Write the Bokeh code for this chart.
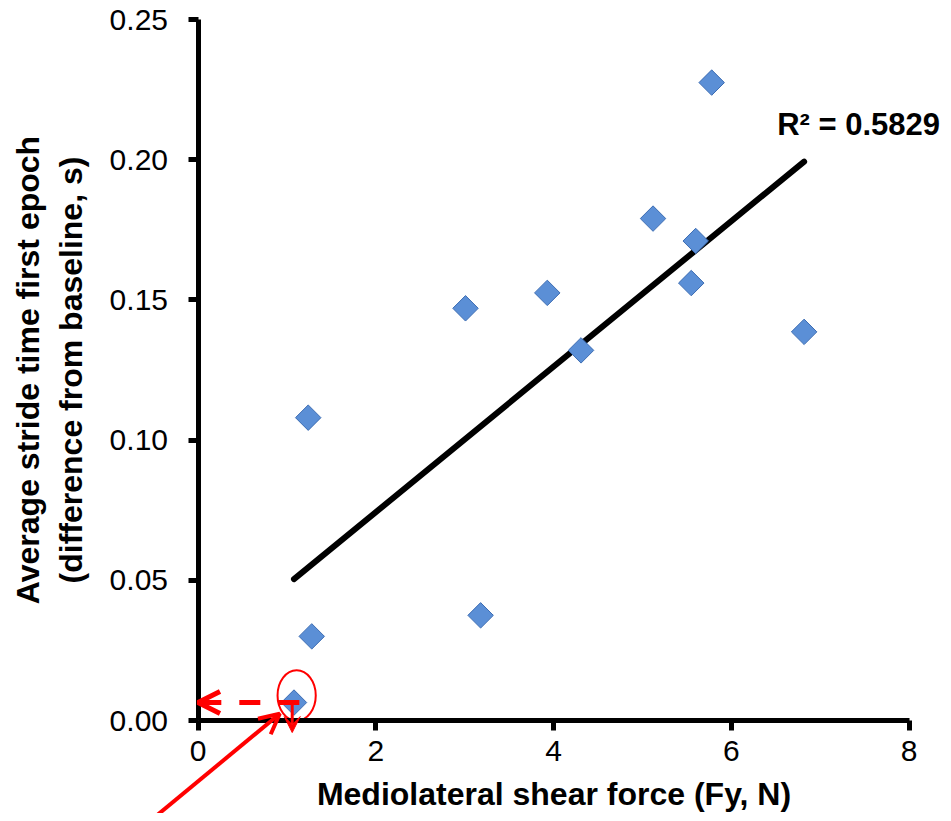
import numpy as np
from bokeh.plotting import figure
from bokeh.models import (ColumnDataSource, Label, Arrow, OpenHead, VeeHead,
                          FixedTicker, NumeralTickFormatter, Range1d)
from bokeh.embed import file_html
from bokeh.resources import INLINE

# ---- data ----
shear_force = [1.08, 1.28, 1.24, 3.01, 3.18, 3.93, 4.31, 5.12, 5.55, 5.60, 5.78, 6.82]
stride_diff = [0.0064, 0.030, 0.108, 0.147, 0.0375, 0.1525, 0.132, 0.179, 0.156, 0.171, 0.2275, 0.1386]
x_ticks = [0, 2, 4, 6, 8]
y_ticks = [0.00, 0.05, 0.10, 0.15, 0.20, 0.25]
x_axis_max = 8
y_axis_max = 0.25
r2_text = "R\u00b2 = 0.5829"
highlight_index = 0

FONT = "Liberation Sans"

# ---- layout: the frame fills the canvas, axes are pinned at 0 so the
# red annotation can reach outside the axis box ----
W, H = 943, 813
LEFT, TOP = 197.5, 19.0          # pixel position of the data origin's axes
PX_X = 711.0 / x_axis_max        # pixels per x unit
PX_Y = 701.0 / y_axis_max        # pixels per y unit
x_lo = -LEFT / PX_X
x_hi = (W - LEFT) / PX_X
y_hi = y_axis_max + TOP / PX_Y
y_lo = -(H - TOP - y_axis_max * PX_Y) / PX_Y

p = figure(width=W, height=H, output_backend="svg", toolbar_location=None,
           x_range=Range1d(x_lo, x_hi), y_range=Range1d(y_lo, y_hi),
           min_border_left=0, min_border_right=0, min_border_top=0,
           min_border_bottom=0)
p.outline_line_color = None
p.xgrid.grid_line_color = None
p.ygrid.grid_line_color = None
p.background_fill_color = "white"
p.border_fill_color = "white"

for ax in (p.xaxis[0], p.yaxis[0]):
    ax.fixed_location = 0
    ax.axis_line_color = "black"
    ax.axis_line_width = 5
    ax.major_tick_line_color = "black"
    ax.major_tick_line_width = 5
    ax.major_tick_out = 10
    ax.major_tick_in = 0
    ax.minor_tick_line_color = None
    ax.major_label_text_font = FONT
    ax.major_label_text_font_size = "30px"
    ax.major_label_text_color = "black"
    ax.axis_label_text_font = FONT
    ax.axis_label_text_font_style = "bold"
    ax.axis_label_text_font_size = "32px"
    ax.axis_label_text_color = "black"

p.xaxis[0].bounds = (0, x_axis_max)
p.yaxis[0].bounds = (0, y_axis_max)
p.xaxis[0].ticker = FixedTicker(ticks=x_ticks)
p.yaxis[0].ticker = FixedTicker(ticks=y_ticks)
p.yaxis[0].formatter = NumeralTickFormatter(format="0.00")
p.xaxis[0].major_label_standoff = 10
p.yaxis[0].major_label_standoff = 20
p.xaxis[0].axis_label = "Mediolateral shear force (Fy, N)"
p.yaxis[0].axis_label = "Average stride time first epoch\n(difference from baseline, s)"
p.xaxis[0].axis_label_standoff = 12
p.yaxis[0].axis_label_standoff = 18

# ---- trend line (least squares fit of the data) ----
xs = np.array(shear_force)
ys = np.array(stride_diff)
slope, intercept = np.polyfit(xs, ys, 1)
fit_x = [xs.min(), xs.max()]
fit_y = [slope * v + intercept for v in fit_x]
p.line(fit_x, fit_y, line_color="black", line_width=6, line_cap="round")

# ---- points ----
src = ColumnDataSource(dict(x=shear_force, y=stride_diff))
p.scatter("x", "y", source=src, marker="square", angle=np.pi / 4, size=18,
          fill_color="#5b8fd6", line_color="#3d6db3", line_width=1)

# ---- R^2 label ----
p.add_layout(Label(x=fit_x[1], y=fit_y[1], x_offset=-27, y_offset=37, text=r2_text,
                   text_font=FONT, text_font_style="bold", text_font_size="31px",
                   text_color="black", text_align="left", text_baseline="middle"))

# ---- red annotation around the highlighted point ----
hx = shear_force[highlight_index]
hy = stride_diff[highlight_index]
red = "#ff0000"
p.ellipse(x=[hx + 0.03], y=[hy + 0.0025], width=0.43, height=0.018,
          fill_color=None, line_color=red, line_width=2)
p.add_layout(Arrow(x_start=hx + 0.06, y_start=hy, x_end=0, y_end=hy,
                   line_color=red, line_width=5, line_dash="21 18",
                   end=OpenHead(size=22, line_color=red, line_width=5)))
p.add_layout(Arrow(x_start=hx - 0.02, y_start=hy, x_end=hx - 0.02, y_end=hy - 0.0107,
                   line_color=red, line_width=3,
                   end=VeeHead(size=16, fill_color=red, line_color=red)))
p.add_layout(Arrow(x_start=hx - 1.61, y_start=hy - 0.042, x_end=hx - 0.16, y_end=hy - 0.004,
                   line_color=red, line_width=4,
                   end=OpenHead(size=20, line_color=red, line_width=4)))

open("out.html", "w").write(file_html(p, INLINE))
